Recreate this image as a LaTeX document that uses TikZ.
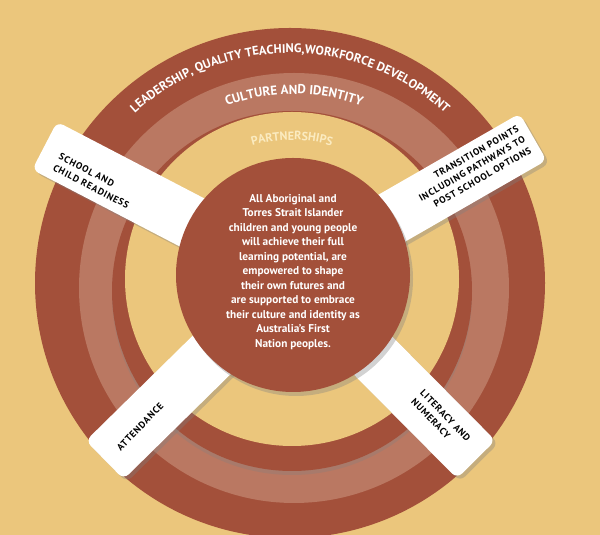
\documentclass[tikz,border=0pt]{standalone}
\usepackage{fontspec}
\setmainfont{PT Sans}
\usetikzlibrary{shadows,decorations.text}
\definecolor{bg}{HTML}{EBC67C}
\definecolor{dk}{HTML}{A3503A}
\definecolor{lt}{HTML}{BA7862}
\definecolor{pt}{HTML}{FBEBC0}
\begin{document}
\begin{tikzpicture}[x=1pt,y=1pt,
  band/.style={fill=white,rounded corners=7pt,drop shadow={shadow xshift=3pt,shadow yshift=-3pt,opacity=0.35}},
  btxt/.style={font=\bfseries\fontsize{9.5}{12.5}\selectfont\addfontfeatures{LetterSpace=8},text=black,align=left,inner sep=0pt}]
\fill[bg] (0,0) rectangle (600,535);
\useasboundingbox (0,0) rectangle (600,535);
\coordinate (O) at (290,252);
\coordinate (C) at (293,260);
\fill[dk] (O) circle (255);
\fill[lt] (294,247) circle (215);
\fill[dk,drop shadow={shadow xshift=0pt,shadow yshift=-4pt,opacity=0.3}] (292,244) circle (180);
\fill[bg] (292,256) circle (167);
% curved labels
\path[decorate,decoration={text along path,text align=center,
  text={|\color{white}\bfseries\fontsize{12.5}{14}\selectfont|LEADERSHIP, QUALITY TEACHING,WORKFORCE DEVELOPMENT}}]
  (O) ++(145:230) arc (145:35:230);
\path[decorate,decoration={text along path,text align=center,
  text={|\color{white}\bfseries\fontsize{13}{15}\selectfont|CULTURE AND IDENTITY}}]
  (294,247) ++(118:194) arc (118:62:194);
\path[decorate,decoration={text along path,text align=center,
  text={|\color{pt}\bfseries\fontsize{12}{14}\selectfont|PARTNERSHIPS}}]
  (292,256) ++(112:139) arc (112:68:139);
% bands
\begin{scope}[shift={(C)}]
\foreach \a/\l in {152.5/280,29.9/277,224.5/264,-45.2/260}{
  \begin{scope}[rotate=\a]
    \path[band] (60,-27) rectangle (\l,27);
  \end{scope}}
\end{scope}
\node[btxt,rotate=-27.5] (ul) at (94,354) {SCHOOL AND\\CHILD READINESS};
\node[btxt,rotate=30,align=right] (ur) at (472,366) {TRANSITION POINTS\\INCLUDING PATHWAYS TO\\POST SCHOOL OPTIONS};
\node[btxt,rotate=46] (ll) at (140,108) {ATTENDANCE};
\node[btxt,rotate=-46] (lr) at (441,115) {LITERACY AND\\NUMERACY};
% centre
\node[circle,fill=dk,minimum size=234pt,inner sep=0pt,
  drop shadow={shadow xshift=3pt,shadow yshift=-4pt,opacity=0.35}] (c) at (C) {};
\node[text=white,font=\bfseries\fontsize{11.3}{14.5}\selectfont,align=center] (t) at (293,263)
 {All Aboriginal and\\Torres Strait Islander\\children and young people\\will achieve their full\\learning potential, are\\empowered to shape\\their own futures and\\are supported to embrace\\their culture and identity as\\Australia’s First\\Nation peoples.};
\end{tikzpicture}
\end{document}
